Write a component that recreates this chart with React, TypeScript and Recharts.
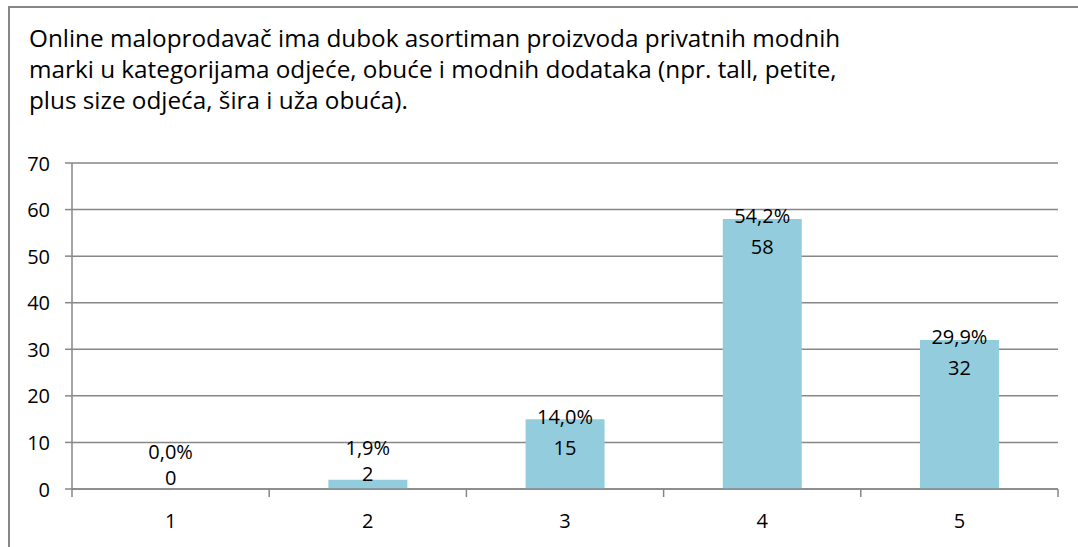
import React from "react"
import { ComposedChart, Bar, Line, XAxis, YAxis, CartesianGrid, LabelList } from "recharts"

// answers on a 1-5 scale
const categories = ["1", "2", "3", "4", "5"]
const counts = [0, 2, 15, 58, 32]
const percents = ["0,0%", "1,9%", "14,0%", "54,2%", "29,9%"]
const yTicks = [0, 10, 20, 30, 40, 50, 60, 70]

const titleLines = [
  "Online maloprodavač ima dubok asortiman proizvoda privatnih modnih",
  "marki u kategorijama odjeće, obuće i modnih dodataka (npr. tall, petite,",
  "plus size odjeća, šira i uža obuća).",
]

const FONT = "'Open Sans', sans-serif"
const GRID = "#878787"

const data = categories.map((c, i) => ({ name: c, count: counts[i], pct: percents[i] }))

// two-line label: percent on top, count below
function BarLabel(props: any) {
  const { x, y, index } = props
  let countY = y + 28
  let pctY = y - 3
  // short bars: Excel pushes the pair above the bar
  if (countY > 465) {
    countY = Math.min(y - 6, 477)
    pctY = countY - 26
  }
  return (
    <g fontFamily={FONT} fontSize={20} fill="#000" textAnchor="middle">
      <text x={x} y={pctY} dominantBaseline="central">{percents[index]}</text>
      <text x={x} y={countY} dominantBaseline="central">{counts[index]}</text>
    </g>
  )
}

// category label plus tick marks on the category boundaries
function XTick(props: any) {
  const { x, y, payload, index } = props
  const off = payload.offset || 0
  return (
    <g>
      <line x1={x - off} x2={x - off} y1={y} y2={y + 8} stroke={GRID} strokeWidth={1.5} />
      {index === categories.length - 1 && (
        <line x1={x + off} x2={x + off} y1={y} y2={y + 8} stroke={GRID} strokeWidth={1.5} />
      )}
      <text x={x} y={y + 31} textAnchor="middle" dominantBaseline="central" fontFamily={FONT} fontSize={20} fill="#000">
        {payload.value}
      </text>
    </g>
  )
}

function YTick(props: any) {
  const { x, y, payload } = props
  return (
    <text x={x - 13} y={y} textAnchor="end" dominantBaseline="central" fontFamily={FONT} fontSize={20} fill="#000">
      {payload.value}
    </text>
  )
}

export default function App() {
  return (
    <div style={{ position: "absolute", left: 0, top: 0, width: 1078, height: 547, overflow: "hidden", background: "#fff" }}>
      <div
        style={{
          position: "absolute",
          left: 8,
          top: 6,
          width: 1080,
          height: 560,
          border: `2px solid ${GRID}`,
          boxSizing: "border-box",
        }}
      />
      <div
        style={{
          position: "absolute",
          left: 29,
          top: 22,
          fontFamily: FONT,
          fontSize: 24.3,
          lineHeight: "31px",
          color: "#000",
          whiteSpace: "nowrap",
        }}
      >
        {titleLines.map((l) => (
          <div key={l}>{l}</div>
        ))}
      </div>
      <div style={{ position: "absolute", left: 0, top: 0 }}>
        <ComposedChart
          width={1078}
          height={547}
          data={data}
          margin={{ top: 163, right: 20, left: 12, bottom: 18 }}
          barCategoryGap="30%"
        >
          <CartesianGrid vertical={false} stroke={GRID} strokeWidth={1.5} />
          <XAxis
            dataKey="name"
            height={40}
            tickLine={false}
            tickSize={0}
            tickMargin={0}
            stroke={GRID}
            strokeWidth={1.5}
            interval={0}
            tick={<XTick />}
          />
          <YAxis
            domain={[0, 70]}
            ticks={yTicks}
            width={60}
            tickSize={7}
            stroke={GRID}
            strokeWidth={1.5}
            tick={<YTick />}
          />
          <Bar dataKey="count" fill="#93CDDD" isAnimationActive={false} />
          <Line dataKey="count" stroke="none" dot={false} activeDot={false} isAnimationActive={false}>
            <LabelList dataKey="count" content={<BarLabel />} />
          </Line>
        </ComposedChart>
      </div>
    </div>
  )
}
